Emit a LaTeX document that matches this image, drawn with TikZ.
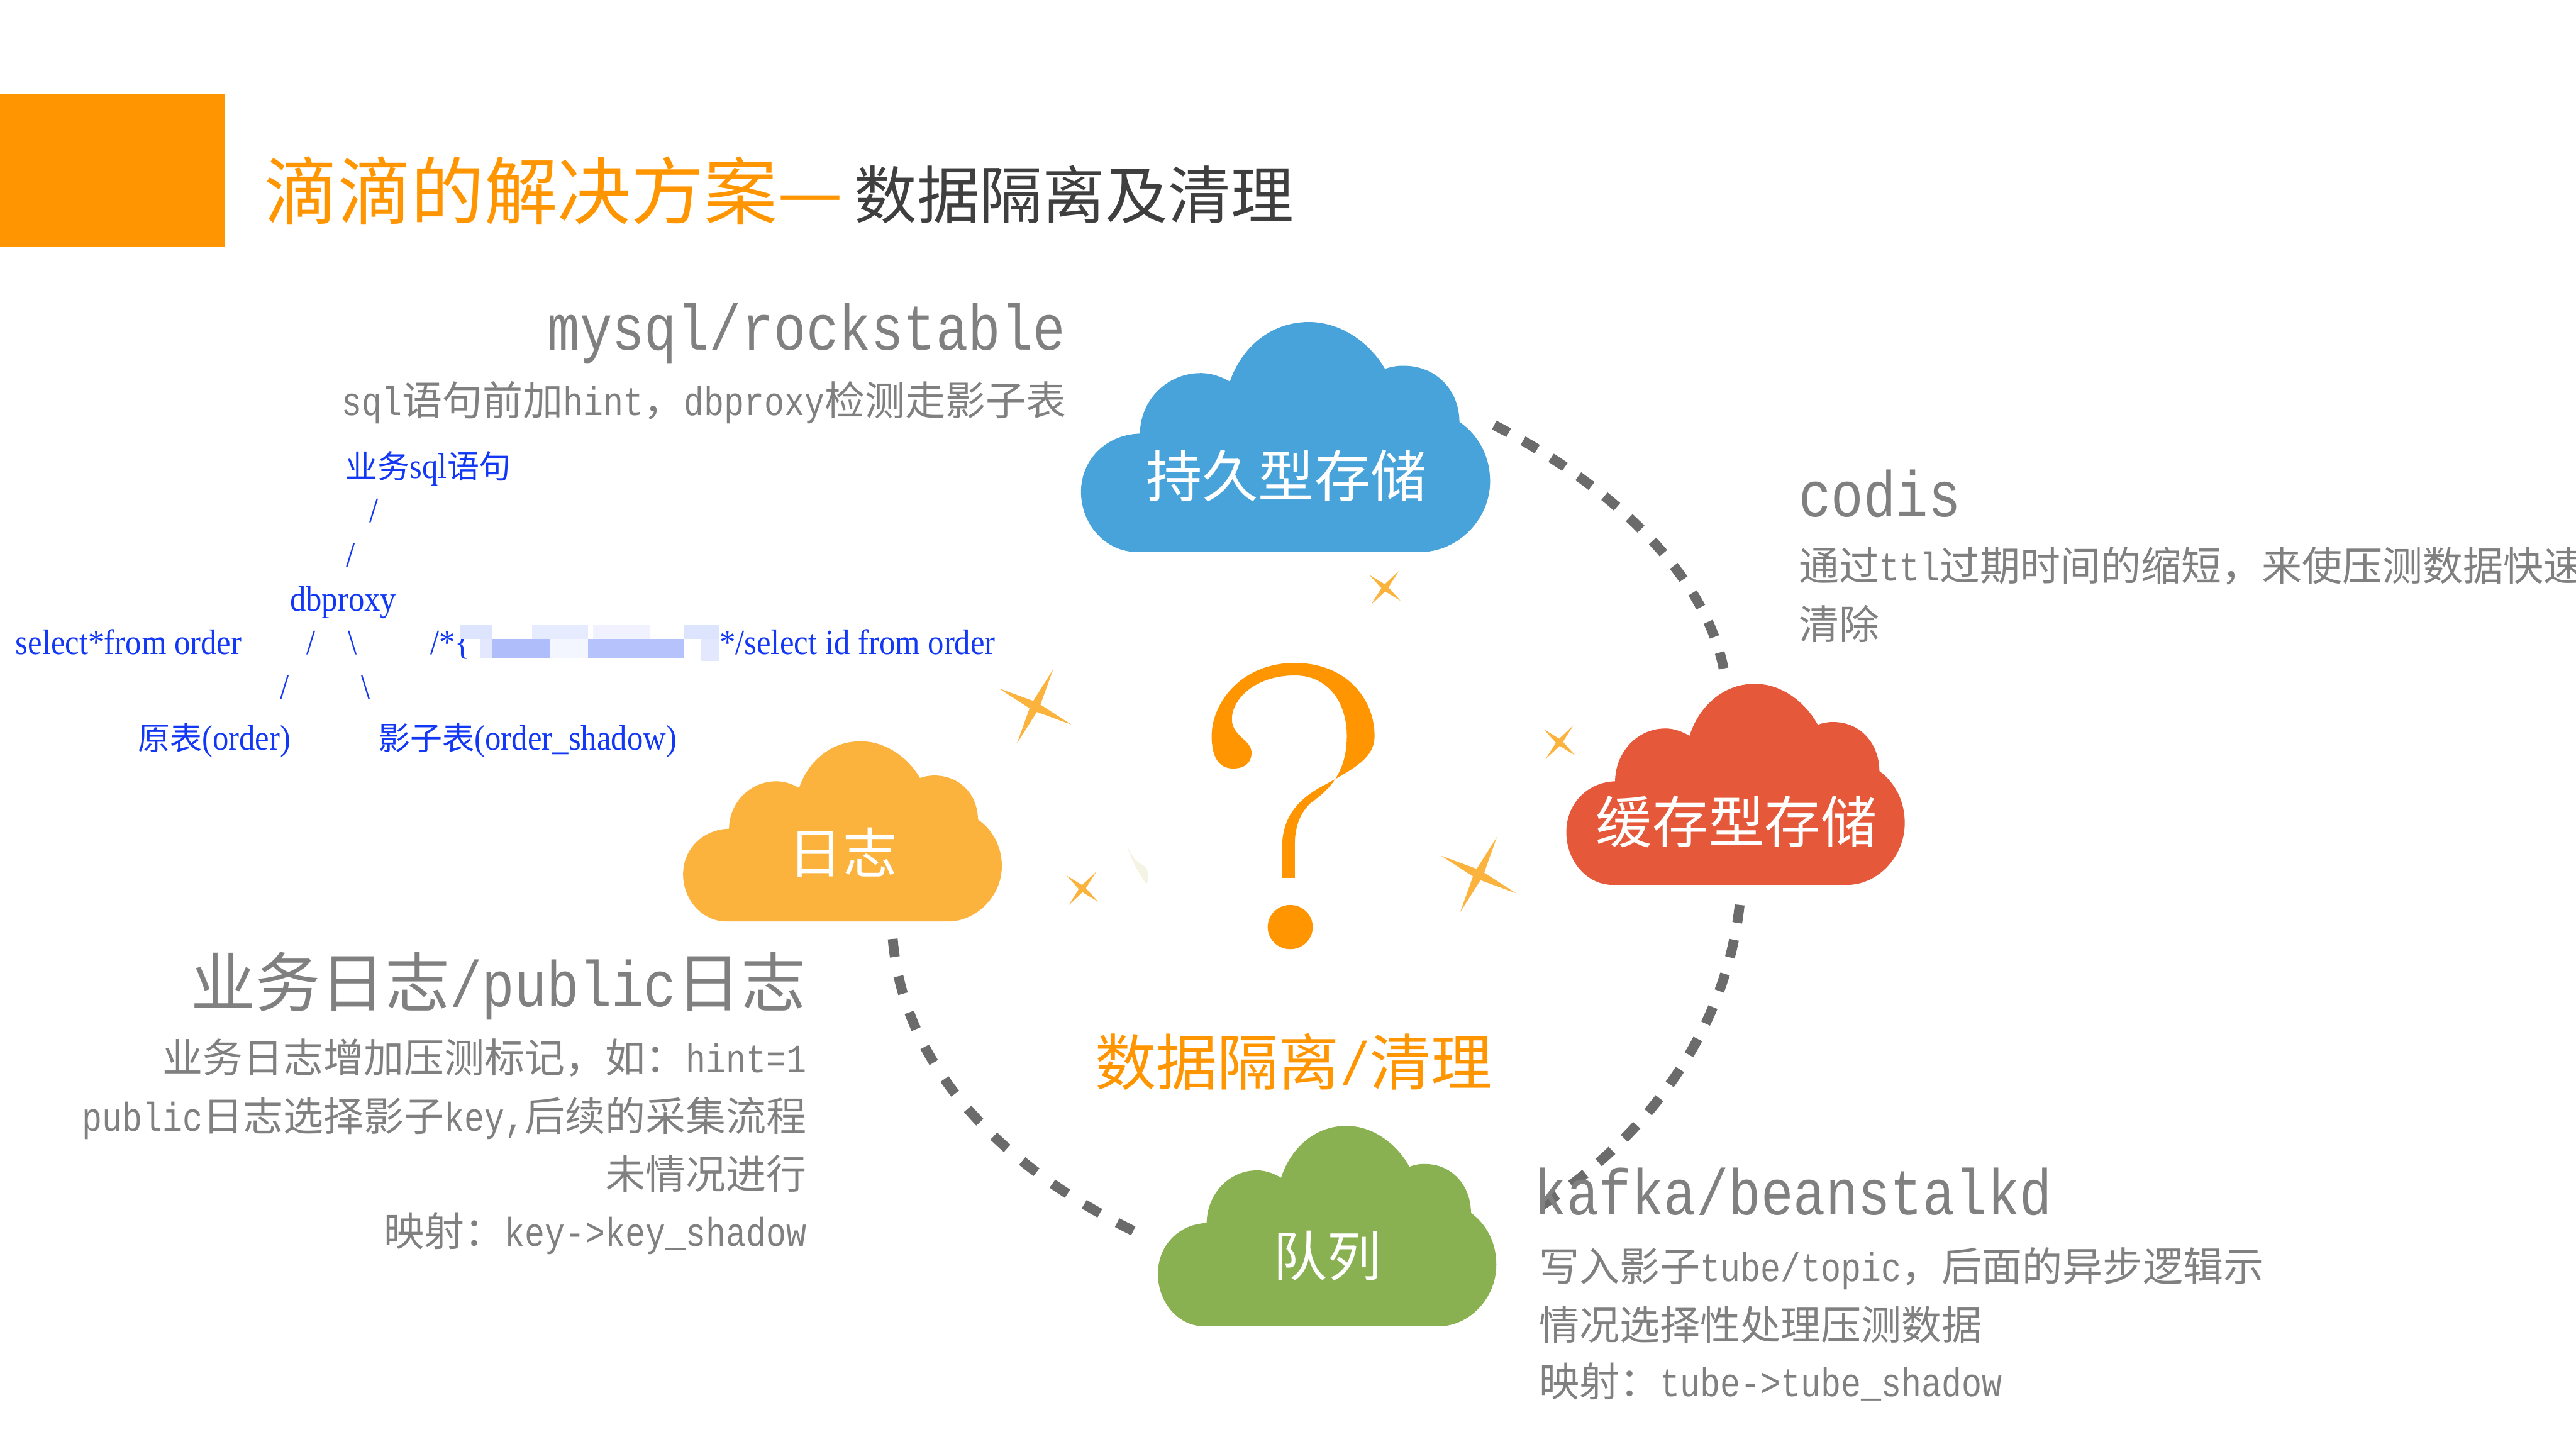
\documentclass[tikz,border=0pt]{standalone}
\usepackage{fontspec}
\setmainfont{Noto Sans CJK SC}
\newfontfamily\latf[FakeStretch=0.8333]{Liberation Mono}
\newfontfamily\serf[FakeStretch=0.9]{Liberation Serif}
\newcommand\lat[1]{{\latf #1}}
\newcommand\cj[1]{{\fontsize{19.5}{19.5}\selectfont\rmfamily #1}}
\definecolor{cblue}{HTML}{48A3DB}
\definecolor{cred}{HTML}{E5593A}
\definecolor{cyel}{HTML}{FBB33D}
\definecolor{cgrn}{HTML}{89B151}
\definecolor{corg}{HTML}{FF9500}
\definecolor{cdash}{HTML}{6B6B6B}
\definecolor{cgray}{HTML}{808080}
\definecolor{cdark}{HTML}{3F3F3F}
\definecolor{cink}{HTML}{1238F5}
\definecolor{cpale}{HTML}{F5F3E3}
\definecolor{bA}{HTML}{DDE4FE}
\definecolor{bB}{HTML}{E6EBFF}
\definecolor{bC}{HTML}{F0F3FF}
\definecolor{bD}{HTML}{E3E8FE}
\definecolor{bE}{HTML}{B0BDFB}
\definecolor{bF}{HTML}{F4F6FF}
\definecolor{bG}{HTML}{B5C2FB}
\newcommand\cloudshape[5]{%
  \fill[#5,shift={(#1,#2)},xscale=#3,yscale=#4]
    (.137,1) .. controls (.06,1) and (0,.88) .. (0,.738)
    .. controls (0,.6) and (.06,.49) .. (.144,.485)
    .. controls (.145,.34) and (.21,.222) .. (.293,.222)
    .. controls (.32,.222) and (.345,.24) .. (.364,.259)
    .. controls (.39,.12) and (.46,0) .. (.557,0)
    .. controls (.64,0) and (.71,.10) .. (.743,.204)
    .. controls (.757,.195) and (.772,.19) .. (.788,.19)
    .. controls (.87,.19) and (.925,.30) .. (.925,.434)
    .. controls (.97,.49) and (1,.58) .. (1,.693)
    .. controls (1,.86) and (.92,1) .. (.83,1) -- cycle;}
\newcommand\sparkle[7]{%
  \fill[cyel]
    ({#1+#3},{#2+#4}) -- ({#1+#7*(#3+#5)},{#2+#7*(#4+#6)})
    -- ({#1+#5},{#2+#6}) -- ({#1+#7*(#5-#3)},{#2+#7*(#6-#4)})
    -- ({#1-#3},{#2-#4}) -- ({#1-#7*(#3+#5)},{#2-#7*(#4+#6)})
    -- ({#1-#5},{#2-#6}) -- ({#1+#7*(#3-#5)},{#2+#7*(#4-#6)}) -- cycle;}
\tikzset{
  txt/.style={inner sep=0pt,outer sep=0pt},
  hd/.style={txt,text=cgray,font=\fontsize{39.4}{39.4}\selectfont},
  sub/.style={txt,text=cgray,font=\fontsize{24.5}{24.5}\selectfont},
  ink/.style={txt,text=cink,font=\fontsize{21.6}{21.6}\selectfont\serf},
  lab/.style={txt,text=white,anchor=base,font=\fontsize{34.2}{34.2}\selectfont},
  lab2/.style={lab,font=\fontsize{33}{33}\selectfont},
  link/.style={draw=cdash,line width=6pt},
}
\begin{document}
\begin{tikzpicture}[x=1pt,y=-1pt]
\useasboundingbox (0,0) rectangle (1568,881.9);
\clip (0,0) rectangle (1568,881.9);
\fill[white] (0,0) rectangle (1568,881.9);
% title
\fill[corg] (0,57.5) rectangle (136.5,150);
\node[txt,anchor=base west,text=corg,font=\fontsize{44.6}{44.6}\selectfont] (t1) at (161,133) {滴滴的解决方案—};
\node[txt,anchor=base west,text=cdark,font=\fontsize{38.2}{38.2}\selectfont] (t2) at (520,133) {数据隔离及清理};
% clouds
\cloudshape{658}{196}{249}{140}{cblue}
\cloudshape{953.4}{416.2}{206}{122.4}{cred}
\cloudshape{415.8}{451.2}{194}{109.7}{cyel}
\cloudshape{704.8}{685.3}{206}{122}{cgrn}
% connectors
\coordinate (a1s) at (909.5,258.7);
\coordinate (a1e) at (1050,411.6);
\coordinate (a2s) at (1058.9,550.8);
\coordinate (a2e) at (934.8,736);
\coordinate (a3s) at (543.4,571.5);
\coordinate (a3e) at (690,749.3);
\draw[link,dash pattern=on 10pt off 10pt] (a1s) .. controls (980,295) and (1040,350) .. (a1e);
\draw[link,dash pattern=on 11pt off 10.5pt] (a2s) .. controls (1050,630) and (1000,695) .. (a2e);
\draw[link,dash pattern=on 11pt off 12pt] (a3s) .. controls (550,650) and (610,710) .. (a3e);
% question mark
\begin{scope}[shift={(643.3,183.8)},xscale=.3516,yscale=.254]
  \fill[corg] (390,1380) -- (390,1300)
    .. controls (392,1230) and (420,1190) .. (460,1160)
    .. controls (520,1115) and (550,1090) .. (550,1040)
    .. controls (550,950) and (500,865) .. (412,865)
    .. controls (320,865) and (268,960) .. (268,1040)
    .. controls (268,1090) and (280,1118) .. (305,1118)
    .. controls (325,1118) and (337,1105) .. (337,1080)
    .. controls (337,1050) and (303,1040) .. (303,1000)
    .. controls (303,950) and (345,895) .. (412,895)
    .. controls (470,895) and (502,960) .. (502,1040)
    .. controls (502,1130) and (470,1170) .. (440,1200)
    .. controls (420,1225) and (412,1260) .. (412,1300)
    -- (412,1380) -- cycle;
  \fill[corg] (404,1498) ellipse [x radius=39,y radius=53];
  \fill[cpale] (122,1305) .. controls (130,1330) and (140,1345) .. (150,1350)
    .. controls (160,1360) and (160,1385) .. (155,1395)
    .. controls (140,1365) and (128,1335) .. (122,1305) -- cycle;
\end{scope}
% sparkles
\sparkle{900}{532.3}{11.2}{-22.9}{22.8}{11.4}{.1}
\sparkle{630}{430}{11}{-22.5}{22}{11}{.1}
\sparkle{843}{357.8}{8.4}{-10.2}{9.5}{7.9}{.12}
\sparkle{949.2}{451.8}{8.4}{-10.2}{9.5}{7.9}{.12}
\sparkle{658.8}{540.9}{8.4}{-10.2}{9.5}{7.9}{.12}
% cloud labels
\node[lab] (l1) at (783,302.5) {持久型存储};
\node[lab] (l2) at (1057,513) {缓存型存储};
\node[lab2] (l3) at (513,531.5) {日志};
\node[lab2] (l4) at (808,777) {队列};
\node[txt,anchor=base,text=corg,font=\fontsize{37.2}{37.2}\selectfont] (mid) at (787.5,660.5) {数据隔离\lat{/}清理};
% mysql block
\node[hd,anchor=base east] (m1) at (648.5,213) {\lat{mysql/rockstable}};
\node[sub,anchor=base east] (m2) at (649,253) {\lat{sql}语句前加\lat{hint}，\lat{dbproxy}检测走影子表};
% blue diagram
\node[ink,anchor=base west] (b1) at (210.5,291) {\cj{业务}sql\cj{语句}};
\node[ink,anchor=base] (s1) at (227.5,318) {/};
\node[ink,anchor=base] (s2) at (213.6,345) {/};
\node[ink,anchor=base west] (b2) at (176.5,372) {dbproxy};
\node[ink,anchor=base west] (b3) at (9.5,398.2) {select*from order};
\node[ink,anchor=base] (s3) at (189.4,398.2) {/};
\node[ink,anchor=base] (s4) at (214.4,398.2) {\textbackslash};
\node[ink,anchor=base west] (b4) at (262,398.2) {/*\{};
\fill[bA] (280,380.6) rectangle (299.3,389);
\fill[bB] (323.9,380.6) rectangle (358,389);
\fill[bC] (360.8,380.6) rectangle (395.7,389);
\fill[bA] (416,380.6) rectangle (437.9,389);
\fill[bD] (291.9,389) rectangle (299.3,400.3);
\fill[bE] (299.3,389) rectangle (335,400.3);
\fill[bF] (335,389) rectangle (358,400.3);
\fill[bG] (358,389) rectangle (416,400.3);
\fill[bD] (426.4,389) rectangle (437.9,402.4);
\node[ink,anchor=base west] (b5) at (438,398.2) {*/select id from order};
\node[ink,anchor=base] (s5) at (173.4,425.3) {/};
\node[ink,anchor=base] (s6) at (222.6,425.3) {\textbackslash};
\node[ink,anchor=base west] (b6) at (84,456.5) {\cj{原表}(order)};
\node[ink,anchor=base west] (b7) at (230.4,456.5) {\cj{影子表}(order\_shadow)};
% codis
\node[hd,anchor=base west] (c1) at (1095,314.3) {\lat{codis}};
\node[sub,anchor=base west] (c2) at (1095,353.7) {通过\lat{ttl}过期时间的缩短，来使压测数据快速};
\node[sub,anchor=base west] (c3) at (1095,389) {清除};
% log
\node[hd,anchor=base east] (g1) at (490.5,612.5) {业务日志\lat{/public}日志};
\node[sub,anchor=base east] (g2) at (491,653) {业务日志增加压测标记，如：\lat{hint=1}};
\node[sub,anchor=base east] (g3) at (491,688.4) {\lat{public}日志选择影子\lat{key,}后续的采集流程};
\node[sub,anchor=base east] (g4) at (491,723.6) {未情况进行};
\node[sub,anchor=base east] (g5) at (491,758.5) {映射：\lat{key->key\_shadow}};
% kafka
\node[hd,anchor=base west] (k1) at (934,739.5) {\lat{kafka/beanstalkd}};
\node[sub,anchor=base west] (k2) at (937,780) {写入影子\lat{tube/topic}，后面的异步逻辑示};
\node[sub,anchor=base west] (k3) at (937,815.5) {情况选择性处理压测数据};
\node[sub,anchor=base west] (k4) at (937,850) {映射：\lat{tube->tube\_shadow}};
\end{tikzpicture}
\end{document}
